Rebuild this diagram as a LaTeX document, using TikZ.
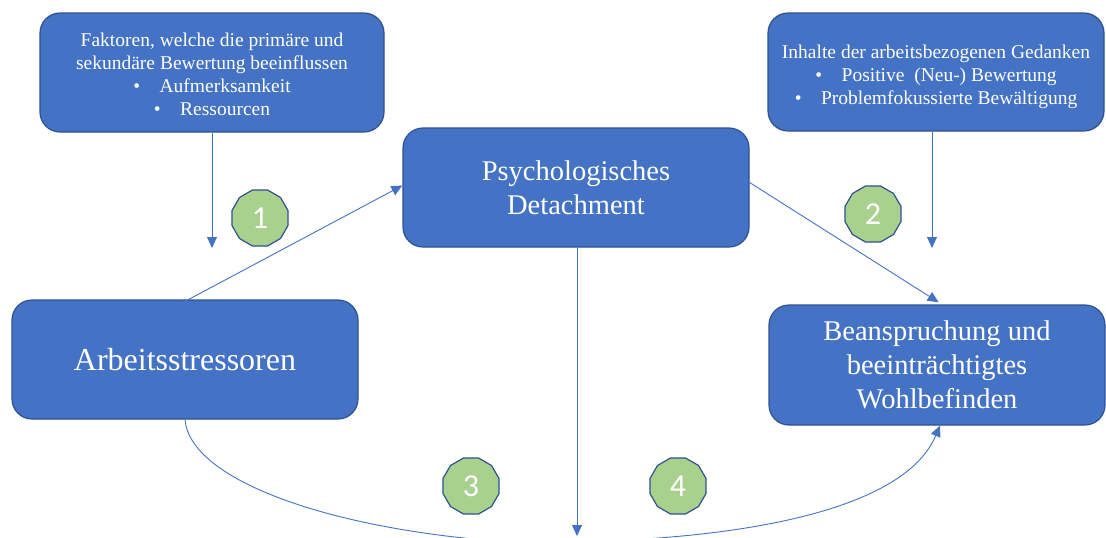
\documentclass[tikz,border=0pt]{standalone}
\usepackage{fontspec}
\setmainfont{Liberation Serif}
\newfontfamily\badgefont{Carlito}
\usetikzlibrary{arrows.meta, shapes.geometric}

\definecolor{boxblue}{HTML}{4472C4}
\definecolor{boxedge}{HTML}{2F528F}
\definecolor{badgegreen}{HTML}{A9D18E}

\tikzset{
	box/.style={draw=boxedge, line width=1.2pt, fill=boxblue, rounded corners=20pt,
		text=white, align=center, inner sep=0pt},
	smallbox/.style={box, font=\fontsize{19.5}{23}\selectfont},
	bigbox/.style={box, font=\fontsize{28.5}{34}\selectfont},
	badge/.style={regular polygon, regular polygon sides=12, draw=boxedge, line width=1.2pt,
		fill=badgegreen, text=white, minimum size=58pt, inner sep=0pt,
		font=\badgefont\fontsize{32}{32}\selectfont},
	link/.style={draw=boxblue, line width=0.9pt, -{Triangle[length=11pt,width=10pt]}}
}

\begin{document}
\begin{tikzpicture}[x=1pt, y=-1pt]
	\useasboundingbox (0,0) rectangle (1106,538);

	% --- top boxes
	\node[smallbox, minimum width=344pt, minimum height=119pt] (factors) at (212,72.5)
		{\rule{0pt}{18pt}Faktoren, welche die primäre und\\ sekundäre Bewertung beeinflussen\\
		 \textbullet\quad Aufmerksamkeit\\ \textbullet\quad Ressourcen};
	\node[smallbox, minimum width=336pt, minimum height=118pt] (contents) at (936,72)
		{\rule{0pt}{24pt}Inhalte der arbeitsbezogenen Gedanken\\
		 \textbullet\quad Positive\ \ (Neu-) Bewertung\\
		 \textbullet\quad Problemfokussierte Bewältigung};

	% --- main boxes
	\node[bigbox, minimum width=346pt, minimum height=119pt] (detach) at (576,187.5)
		{Psychologisches\\ Detachment};
	\node[bigbox, minimum width=346pt, minimum height=119pt, font=\fontsize{32}{36}\selectfont] (stress) at (185,359.5)
		{Arbeitsstressoren};
	\node[bigbox, minimum width=336pt, minimum height=120pt] (strain) at (937,365)
		{Beanspruchung und\\ beeinträchtigtes\\ Wohlbefinden};

	% free ends
	\coordinate (factorsend) at (212,248);
	\coordinate (contentsend) at (932,248);
	\coordinate (detachend) at (577,536);

	% --- arrows
	\draw[link] (factors.south -| factorsend) -- (factorsend);
	\draw[link] (contents.south -| contentsend) -- (contentsend);
	\draw[link] ([yshift=-2pt]stress.north) -- ([yshift=2pt]detach.west);
	\draw[link, shorten >=4pt] ([yshift=5pt]detach.east) -- ([xshift=5pt]strain.north);
	\draw[link] (detach.south -| detachend) -- (detachend);
	\draw[link] (stress.south) .. controls (190,480) and (330,530) .. (510,542)
		.. controls (700,545) and (900,520) .. ([xshift=3pt]strain.south);

	% --- numbered badges
	\foreach \x/\y/\num in {260/218/1, 873/214/2, 471/486/3, 678/486/4}
		\node[badge] (badge\num) at (\x,\y) {\num};
\end{tikzpicture}
\end{document}
